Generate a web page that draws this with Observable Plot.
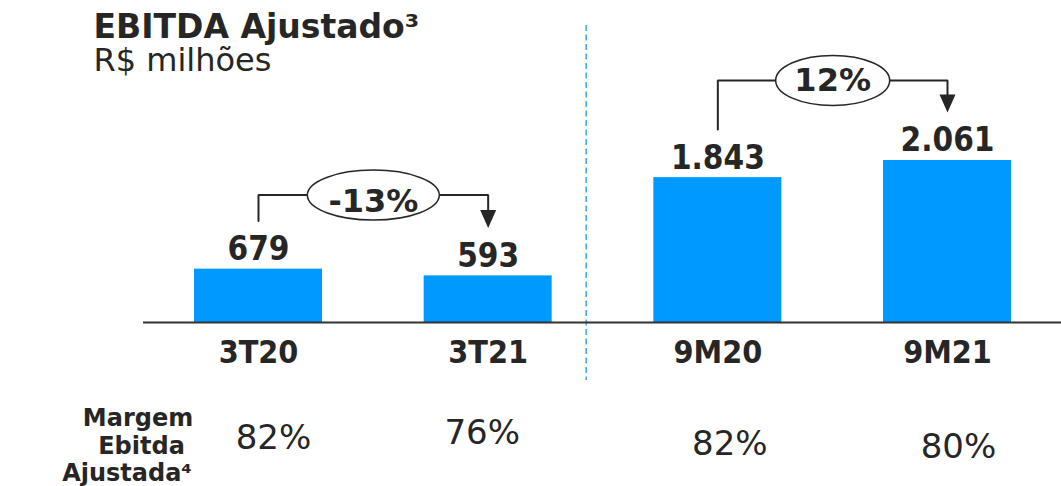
<!DOCTYPE html>
<html><head><meta charset="utf-8">
<script src="https://cdn.jsdelivr.net/npm/d3@7"></script>
<script src="https://cdn.jsdelivr.net/npm/@observablehq/plot@0.6"></script>
<style>body{margin:0;background:#fff} svg{display:block}</style>
</head><body><div id="chart"></div>
<script>
// ---- data ----
const periods = ["3T20", "3T21", "9M20", "9M21"];
const ebitda = [679, 593, 1843, 2061];
const margins = [82, 76, 82, 80];
const comparisons = [["3T20", "3T21"], ["9M20", "9M21"]];
const title = "EBITDA Ajustado³";
const subtitle = "R$ milhões";
const marginLabel = ["Margem", "Ebitda", "Ajustada⁴"];

// ---- layout ----
const W = 1061, H = 486, BASE = 322, YMAX = 4096;
const u = px => px * YMAX / BASE;           // pixels -> data units
const PAD = 0.4427, X0 = 194, X1 = 1011;
const step = (X1 - X0) / (periods.length - PAD);
const ink = "#262626";
const bold = "'DejaVu Sans', Verdana, sans-serif";
const cond = "'DejaVu Sans Condensed', 'DejaVu Sans', sans-serif";

const fmt = d3.formatLocale({decimal: ",", thousands: ".", grouping: [3], currency: ["R$", ""]}).format(",d");
const data = periods.map((p, i) => ({period: p, value: ebitda[i], margin: margins[i]}));
const val = p => data.find(d => d.period === p).value;

const marginDx = [15, -6, 12, 11];
const marginDy = [126, 121, 132, 135];
const labelDx = [-5.5, -2, -16.5];
const labelDy = [103, 131, 158];
const pairLayout = [{rise: 74, rx: 66, ry: 25, textDy: 17}, {rise: 80, rx: 57, ry: 25, textDy: 11}];

const ellipse = (rx, ry) => ({
  draw(ctx) {
    const k = 0.5523;
    ctx.moveTo(-rx, 0);
    ctx.bezierCurveTo(-rx, -ry * k, -rx * k, -ry, 0, -ry);
    ctx.bezierCurveTo(rx * k, -ry, rx, -ry * k, rx, 0);
    ctx.bezierCurveTo(rx, ry * k, rx * k, ry, 0, ry);
    ctx.bezierCurveTo(-rx * k, ry, -rx, ry * k, -rx, 0);
    ctx.closePath();
  }
});
const downArrow = {
  draw(ctx) { ctx.moveTo(-8, -18); ctx.lineTo(8, -18); ctx.lineTo(0, 0); ctx.closePath(); }
};

const connectorMarks = comparisons.flatMap(([a, b], j) => {
  const L = pairLayout[j];
  const va = val(a), vb = val(b);
  const level = Math.max(va, vb) + u(L.rise);
  const pts = [
    {x: a, y: va + u(48)}, {x: a, y: level},
    {x: b, y: level}, {x: b, y: vb + u(48 + 17)}
  ];
  const change = Math.round((vb / va - 1) * 100);
  const mid = [{x: a, y: level, t: change + "%"}];
  return [
    Plot.line(pts, {x: "x", y: "y", stroke: ink, strokeWidth: 2, strokeLinejoin: "miter"}),
    Plot.dot([{x: b, y: vb + u(48)}], {x: "x", y: "y", symbol: downArrow, r: 5, fill: ink, stroke: "none"}),
    Plot.dot(mid, {x: "x", y: "y", dx: step / 2, symbol: ellipse(L.rx, L.ry), r: 5, fill: "white", stroke: ink, strokeWidth: 1.5}),
    Plot.text(mid, {x: "x", y: "y", dx: step / 2, dy: L.textDy, text: "t", lineAnchor: "bottom",
      fontSize: 32, fontWeight: "bold", fontFamily: bold, fill: ink})
  ];
});

const chart = Plot.plot({
  width: W, height: H,
  marginTop: 0, marginBottom: H - BASE, marginLeft: 143, marginRight: 0,
  style: {background: "white"},
  x: {type: "band", domain: periods, range: [X0, X1], paddingInner: PAD, paddingOuter: 0, round: false, axis: null},
  y: {domain: [0, YMAX], range: [BASE, 0], axis: null},
  marks: [
    // title & subtitle
    Plot.text([title], {frameAnchor: "top-left", dx: -50, dy: 37, textAnchor: "start", lineAnchor: "bottom",
      fontSize: 33, fontWeight: "bold", fontFamily: bold, fill: ink}),
    Plot.text([subtitle], {frameAnchor: "top-left", dx: -50, dy: 70, textAnchor: "start", lineAnchor: "bottom",
      fontSize: 32, fontFamily: bold, fill: ink}),
    // separator
    Plot.ruleX([0], {x: () => "3T21", dx: 98, y1: () => u(BASE - 25), y2: () => -u(58),
      stroke: "#3DA5F0", strokeWidth: 1.5, strokeDasharray: "6,3.5"}),
    // bars
    Plot.barY(data, {x: "period", y: "value", fill: "#0099FF"}),
    Plot.ruleY([0], {stroke: "#333", strokeWidth: 2.2}),
    // value labels
    Plot.text(data, {x: "period", y: "value", text: d => fmt(d.value), dy: -9, lineAnchor: "bottom",
      fontSize: 33, fontWeight: "bold", fontFamily: cond, fill: ink}),
    // category labels
    Plot.text(data, {x: "period", y: () => 0, text: "period", dy: 40, lineAnchor: "bottom",
      fontSize: 32, fontWeight: "bold", fontFamily: cond, fill: ink}),
    // margin values
    ...data.map((d, i) => Plot.text([d], {x: "period", y: () => 0, text: d => d.margin + "%",
      dx: marginDx[i], dy: marginDy[i], lineAnchor: "bottom", fontSize: 34, fontFamily: bold, fill: ink})),
    // margin row label
    ...marginLabel.map((t, i) => Plot.text([t], {frameAnchor: "bottom-left", dx: labelDx[i], dy: labelDy[i],
      textAnchor: "middle", lineAnchor: "bottom", fontSize: 24, fontWeight: "bold", fontFamily: bold, fill: ink})),
    ...connectorMarks
  ]
});
document.getElementById("chart").appendChild(chart);
</script>
</body></html>
